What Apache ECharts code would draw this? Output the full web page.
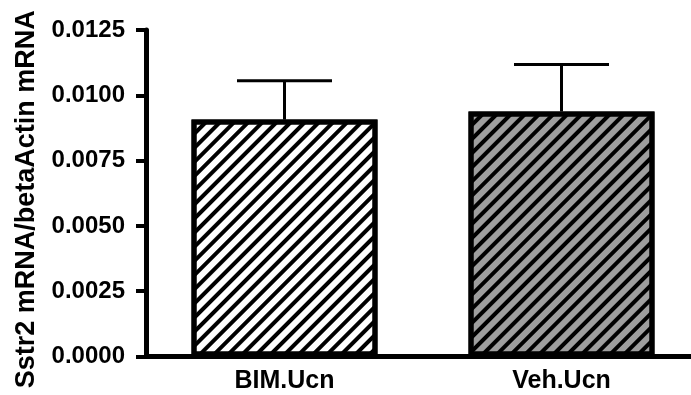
<!DOCTYPE html>
<html>
<head>
<meta charset="utf-8">
<script src="https://cdn.jsdelivr.net/npm/echarts@6/dist/echarts.min.js"></script>
<style>
  html, body { margin: 0; padding: 0; background: #fff; }
  #chart { width: 691px; height: 395px; }
</style>
</head>
<body>
<div id="chart"></div>
<script>
// Sstr2 expression relative to beta-actin, mean with SEM
const groups = ['BIM.Ucn', 'Veh.Ucn'];
const means = [0.00907, 0.00938];
const sems = [0.00149, 0.00180];
const fills = ['#ffffff', '#9e9e9e'];
const yTicks = { min: 0, max: 0.0125, interval: 0.0025 };

const font = 'Liberation Sans, Arial, Helvetica, sans-serif';

const chart = echarts.init(document.getElementById('chart'), null, { renderer: 'canvas' });

// diagonal "/" hatching laid over the bar fill
const hatch = {
  symbol: 'rect',
  symbolSize: 1,
  color: '#000',
  dashArrayX: [1, 0],
  dashArrayY: [4, 6],
  rotation: -Math.PI / 4
};

chart.setOption({
  animation: false,
  backgroundColor: '#fff',
  grid: { left: 146, top: 30, width: 554, height: 326.5, containLabel: false, outerBoundsMode: 'none' },
  xAxis: {
    type: 'category',
    data: groups,
    axisLine: { lineStyle: { color: '#000', width: 5 } },
    axisTick: { alignWithLabel: true, length: 9, lineStyle: { color: '#000', width: 4 } },
    axisLabel: { color: '#000', fontFamily: font, fontWeight: 'bold', fontSize: 25, margin: 12 },
    splitLine: { show: false }
  },
  yAxis: {
    type: 'value',
    min: yTicks.min,
    max: yTicks.max,
    interval: yTicks.interval,
    name: 'Sstr2 mRNA/betaActin mRNA',
    nameLocation: 'middle',
    nameGap: 106,
    nameTextStyle: { color: '#000', fontFamily: font, fontWeight: 'bold', fontSize: 27, padding: [0, 12, 0, 0] },
    axisLine: { show: true, lineStyle: { color: '#000', width: 5 } },
    axisTick: { show: true, length: 10, lineStyle: { color: '#000', width: 4 } },
    axisLabel: {
      color: '#000', fontFamily: font, fontWeight: 'bold', fontSize: 24, margin: 21,
      formatter: v => v.toFixed(4)
    },
    splitLine: { show: false }
  },
  series: [
    {
      type: 'custom',
      z: 1,
      data: groups.map((g, i) => [i, means[i], means[i] + sems[i]]),
      renderItem: (params, api) => {
        const base = api.coord([api.value(0), api.value(1)]);
        const top = api.coord([api.value(0), api.value(2)]);
        const half = 47.5;
        const style = { stroke: '#000', lineWidth: 3 };
        return {
          type: 'group',
          children: [
            { type: 'line', shape: { x1: base[0], y1: base[1], x2: top[0], y2: top[1] }, style },
            { type: 'line', shape: { x1: top[0] - half, y1: top[1], x2: top[0] + half, y2: top[1] }, style }
          ]
        };
      }
    },
    {
      type: 'bar',
      z: 2,
      barWidth: 186,
      data: means.map((v, i) => ({
        value: v,
        itemStyle: { color: fills[i], borderColor: '#000', borderWidth: 5, decal: hatch }
      }))
    }
  ]
});
</script>
</body>
</html>
